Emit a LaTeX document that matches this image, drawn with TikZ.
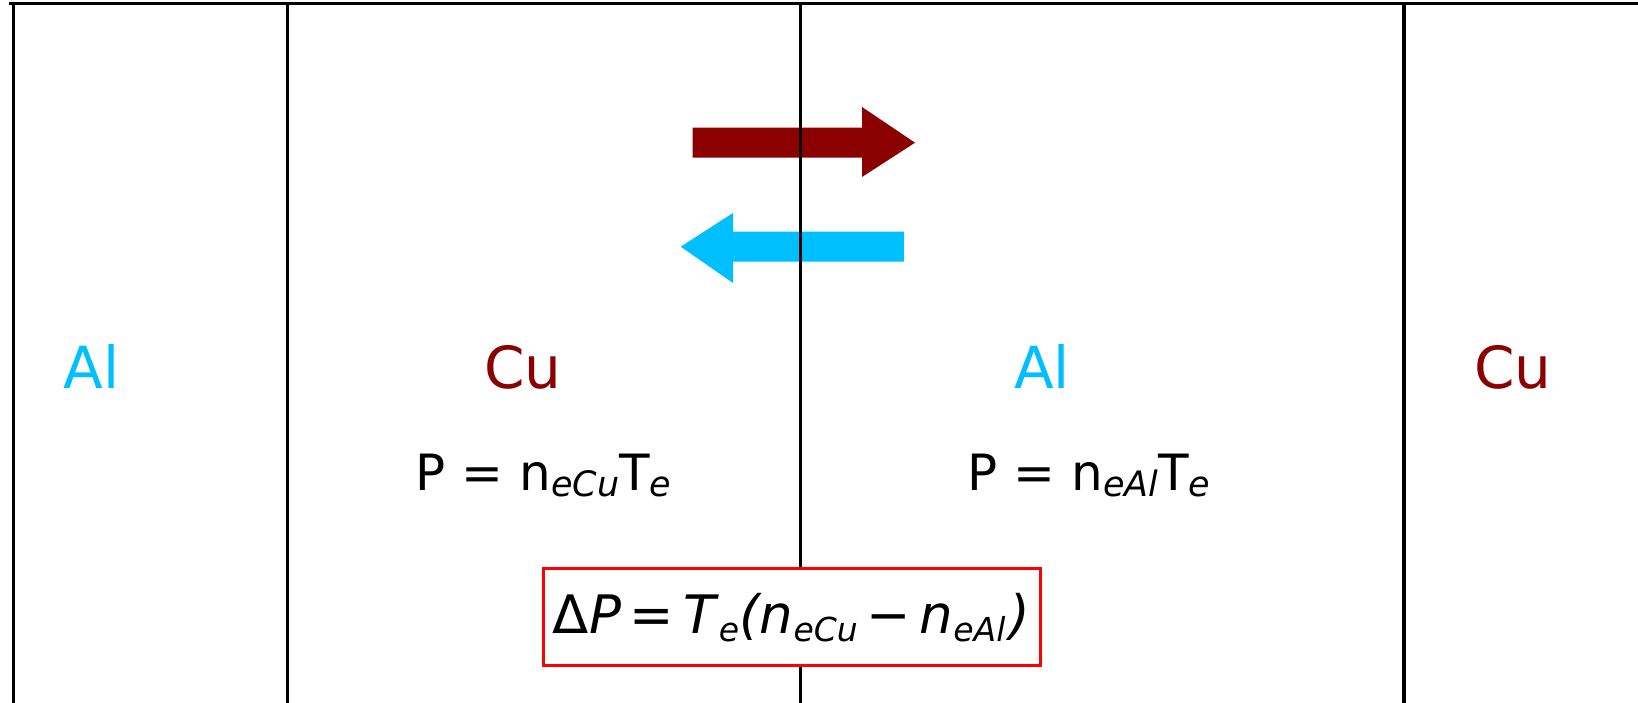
\documentclass[tikz,border=0pt]{standalone}
\usepackage{fontspec}
\setmainfont{DejaVu Sans}
\definecolor{cured}{HTML}{8B0000}
\definecolor{alblue}{HTML}{00BFFF}
\definecolor{boxred}{HTML}{FF0000}
\newcommand\subU[1]{\raisebox{-6pt}{\fontsize{35}{40}\selectfont\itshape #1}}
\newcommand\subB[1]{\raisebox{-8.5pt}{\fontsize{33}{40}\selectfont\itshape #1}}
\begin{document}
\begin{tikzpicture}[x=1pt,y=-1pt,
  wall/.style={line width=3.4pt,black},
  topwall/.style={line width=3pt,black},
  metal/.style={anchor=base,inner sep=0pt,font=\fontsize{58}{70}\selectfont},
  cu/.style={metal,text=cured},
  al/.style={metal,text=alblue},
  eqn/.style={anchor=base,inner sep=0pt,font=\fontsize{50}{60}\selectfont},
  eqbox/.style={draw=boxred,line width=3pt,fill=white,minimum width=497,minimum height=97.7,inner sep=0pt,text height=40,text depth=8,font=\fontsize{53}{60}\selectfont}]
\useasboundingbox (0,0) rectangle (1638,703);
\fill[white] (0,0) rectangle (1638,703);
% flux arrows
\fill[cured] (692.7,127.7) -- (862,127.7) -- (862,107) -- (915,142.7) -- (862,177) -- (862,157.7) -- (692.7,157.7) -- cycle;
\fill[alblue] (904,231.7) -- (733,231.7) -- (733,213) -- (680.7,246.7) -- (733,283) -- (733,261.7) -- (904,261.7) -- cycle;
% walls
\draw[topwall] (9.3,3.8) -- (1638,3.8);
\draw[wall] (13.7,3.8) -- (13.7,703);
\draw[wall] (287.7,3.8) -- (287.7,703);
\draw[wall] (800.7,3.8) -- (800.7,703);
\draw[wall] (1404,3.8) -- (1404,703);
% labels
\node[al] (al1) at (91.5,388) {Al};
\node[cu] (cu1) at (523,388) {Cu};
\node[al] (al2) at (1042,388) {Al};
\node[cu] (cu2) at (1513,388) {Cu};
\node[eqn] (pcu) at (543.5,490.7) {P = n\subU{eCu}T\subU{e}};
\node[eqn] (pal) at (1089,490.7) {P = n\subU{eAl}T\subU{e}};
\node[eqbox] (dp) at (791.5,617) {Δ\textit{P}\,=\,\textit{T}\subB{e}\textit{(n}\subB{eCu}\,−\,\textit{n}\subB{eAl}\kern4pt\textit{)}};
\end{tikzpicture}
\end{document}
